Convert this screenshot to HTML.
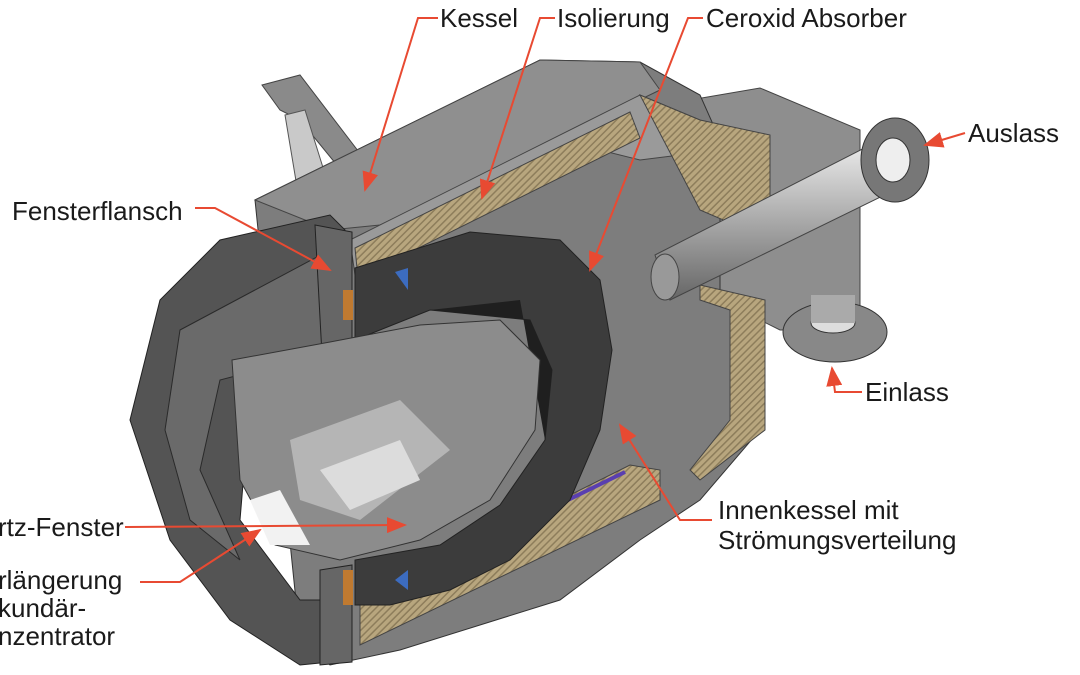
<!DOCTYPE html>
<html><head><meta charset="utf-8"><style>
body{margin:0;background:#fff;}
svg{display:block}
text{font-family:"Liberation Sans",sans-serif;font-size:26px;fill:#1a1a1a}
</style></head><body>
<svg width="1080" height="675" viewBox="0 0 1080 675">
<defs>
<pattern id="h" width="5" height="5" patternUnits="userSpaceOnUse" patternTransform="rotate(45)">
<rect width="5" height="5" fill="#b8a67e"/><rect width="1.5" height="5" fill="#8d7d5b"/></pattern>
<marker id="a" markerWidth="10" markerHeight="8" refX="9" refY="4" orient="auto"><path d="M0,0L10,4L0,8z" fill="#e84a32"/></marker>
<linearGradient id="pg" x1="0" y1="0" x2="0" y2="1"><stop offset="0" stop-color="#eee"/><stop offset=".5" stop-color="#aaa"/><stop offset="1" stop-color="#666"/></linearGradient>
</defs>
<polygon points="262,85 300,75 365,160 345,175 300,120 280,110" fill="#8a8a8a" stroke="#444"/>
<polygon points="285,115 305,110 330,190 300,205" fill="#c9c9c9" stroke="#555"/>
<polygon points="690,100 760,88 860,130 860,330 780,330 720,300" fill="#8e8e8e" stroke="#444"/>
<polygon points="255,200 540,60 640,62 700,95 720,140 720,300 760,340 760,430 700,500 640,540 560,600 400,650 330,665 300,640" fill="#7d7d7d" stroke="#333"/>
<polygon points="255,200 540,60 640,62 660,90 380,225 330,230" fill="#8f8f8f" stroke="#444"/>
<polygon points="350,240 640,95 700,120 720,150 640,160 600,150 355,275" fill="#9a9a9a" stroke="#444"/>
<polygon points="355,248 630,112 640,138 358,278" fill="url(#h)" stroke="#444"/>
<polygon points="640,95 700,120 770,135 770,240 700,210" fill="url(#h)" stroke="#444"/>
<polygon points="700,285 765,300 765,430 700,480 690,470 730,420 730,310 700,300" fill="url(#h)" stroke="#444"/>
<polygon points="360,600 630,465 660,470 660,500 360,645" fill="url(#h)" stroke="#444"/>
<line x1="368" y1="598" x2="625" y2="472" stroke="#5a3fb0" stroke-width="4"/>
<polygon points="130,420 160,300 220,240 330,215 345,230 350,355 300,360 250,400 240,520 300,600 350,600 350,660 300,665 230,620 170,540" fill="#545454" stroke="#222"/>
<polygon points="180,330 330,250 335,350 220,380 200,470 240,560 190,520 165,430" fill="#6a6a6a" stroke="#2a2a2a"/>
<polygon points="315,225 352,232 352,355 322,355" fill="#666" stroke="#222"/>
<polygon points="320,570 352,565 352,662 320,665" fill="#666" stroke="#222"/>
<rect x="343" y="290" width="10" height="30" fill="#c07a30"/>
<rect x="343" y="570" width="10" height="35" fill="#c07a30"/>
<path d="M355,268 L470,232 L560,240 L600,280 L612,350 L600,430 L570,500 L510,560 L450,590 L390,605 L355,605 L355,560 L440,545 L500,505 L545,440 L552,370 L530,320 L430,310 L355,340 Z" fill="#3c3c3c" stroke="#222"/>
<path d="M430,310 L530,320 L552,370 L545,440 L520,300 Z" fill="#1f1f1f"/>
<polygon points="395,272 408,268 408,290" fill="#3c6cc0"/>
<polygon points="395,580 408,570 408,590" fill="#3c6cc0"/>
<path d="M232,360 L330,342 L420,325 L500,320 L540,360 L535,430 L490,500 L420,540 L340,560 L275,545 L240,480 Z" fill="#8c8c8c" stroke="#333"/>
<polygon points="290,440 400,400 450,450 360,520 300,500" fill="#b5b5b5"/>
<polygon points="320,470 400,440 420,480 350,510" fill="#dcdcdc"/>
<polygon points="250,500 280,490 310,545 270,545" fill="#f2f2f2"/>
<polygon points="655,255 880,140 905,185 670,300" fill="url(#pg)" stroke="#444"/>
<ellipse cx="665" cy="277" rx="14" ry="23" fill="#999" stroke="#444"/>
<ellipse cx="895" cy="160" rx="34" ry="42" fill="#777" stroke="#333"/>
<ellipse cx="893" cy="160" rx="17" ry="22" fill="#eee" stroke="#333"/>
<ellipse cx="835" cy="332" rx="52" ry="30" fill="#888" stroke="#333"/>
<ellipse cx="833" cy="323" rx="22" ry="10" fill="#ddd" stroke="#333"/>
<rect x="811" y="295" width="44" height="28" fill="#aaa"/>
<g stroke="#e84a32" stroke-width="2" fill="none" marker-end="url(#a)">
<polyline points="438,18 418,18 365,190"/>
<polyline points="555,18 540,18 482,198"/>
<polyline points="703,18 688,18 590,270"/>
<polyline points="965,133 925,145"/>
<polyline points="195,208 215,208 330,270"/>
<polyline points="862,392 835,392 832,368"/>
<polyline points="125,527 405,525"/>
<polyline points="140,582 180,582 260,530"/>
<polyline points="712,520 680,520 620,425"/>
</g>
<text x="440" y="27">Kessel</text>
<text x="557" y="27">Isolierung</text>
<text x="706" y="27">Ceroxid Absorber</text>
<text x="968" y="142">Auslass</text>
<text x="12" y="220">Fensterflansch</text>
<text x="865" y="401">Einlass</text>
<text x="-2" y="536">rtz-Fenster</text>
<text x="-2" y="589">rlängerung</text>
<text x="-2" y="617">kundär-</text>
<text x="-2" y="645">nzentrator</text>
<text x="718" y="519">Innenkessel mit</text>
<text x="718" y="549">Strömungsverteilung</text>
</svg>
</body></html>
